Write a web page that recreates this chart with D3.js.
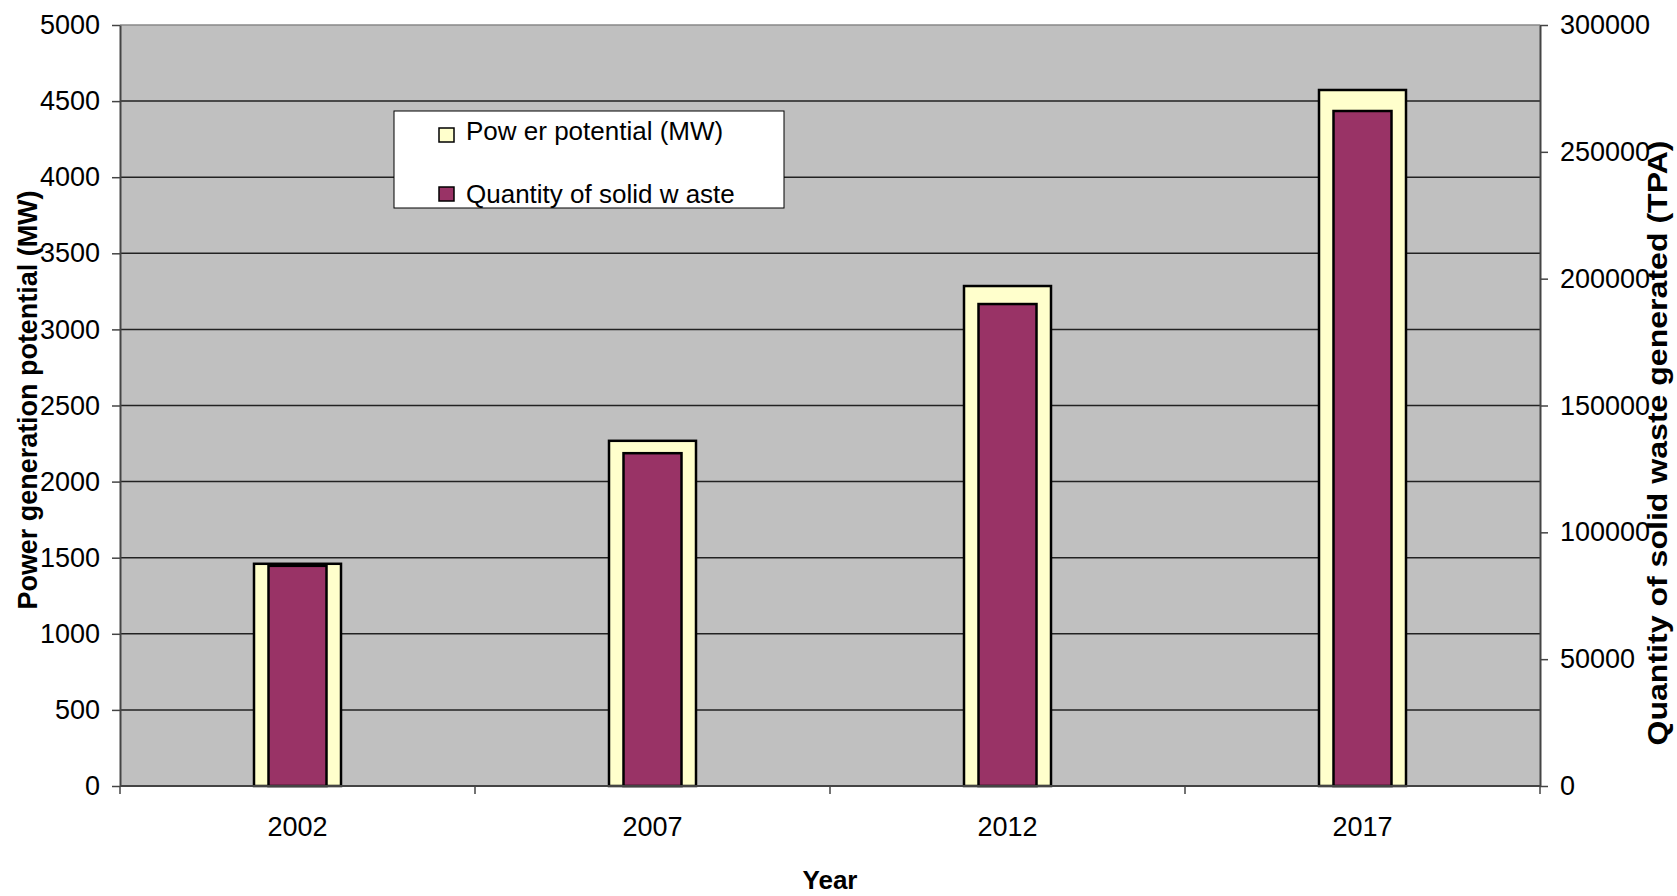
<!DOCTYPE html>
<html>
<head>
<meta charset="utf-8">
<script src="https://cdn.jsdelivr.net/npm/d3@7"></script>
<style>
  body { margin: 0; background: #fff; }
  text { font-family: "Liberation Sans", Arial, sans-serif; fill: #000; }
</style>
</head>
<body>
<svg id="chart" width="1677" height="896"></svg>
<script>
// Data
const years = ["2002", "2007", "2012", "2017"];
const powerMW = [1460, 2268, 3285, 4573];
const wasteTPA = [86800, 131200, 190000, 266100];
const leftTicks = [0, 500, 1000, 1500, 2000, 2500, 3000, 3500, 4000, 4500, 5000];
const rightTicks = [0, 50000, 100000, 150000, 200000, 250000, 300000];
const seriesNames = ["Pow er potential (MW)", "Quantity of solid w aste"];

// Layout
const plot = { left: 120, right: 1540, top: 25, bottom: 786 };
const colors = { bg: "#c0c0c0", power: "#ffffcc", waste: "#993366" };
const powerWidth = 87, wasteWidth = 58;

const svg = d3.select("#chart");

const x = d3.scaleBand().domain(years).range([plot.left, plot.right]);
const yLeft = d3.scaleLinear().domain([0, 5000]).range([plot.bottom, plot.top]);
const yRight = d3.scaleLinear().domain([0, 300000]).range([plot.bottom, plot.top]);

// Plot area background
svg.append("rect")
  .attr("x", plot.left).attr("y", plot.top)
  .attr("width", plot.right - plot.left).attr("height", plot.bottom - plot.top)
  .attr("fill", colors.bg);

// Gridlines
svg.append("g").selectAll("line")
  .data(leftTicks.slice(1, -1))
  .join("line")
  .attr("x1", plot.left).attr("x2", plot.right)
  .attr("y1", d => yLeft(d)).attr("y2", d => yLeft(d))
  .attr("stroke", "#222").attr("stroke-width", 1.5);

// top border
svg.append("line")
  .attr("x1", plot.left).attr("x2", plot.right)
  .attr("y1", plot.top).attr("y2", plot.top)
  .attr("stroke", "#888").attr("stroke-width", 1.5);

// Bars: power (left axis) behind, waste (right axis) in front
svg.append("g").selectAll("rect")
  .data(years.map((y, i) => ({ year: y, v: powerMW[i] })))
  .join("rect")
  .attr("x", d => x(d.year) + x.bandwidth() / 2 - powerWidth / 2)
  .attr("y", d => yLeft(d.v))
  .attr("width", powerWidth)
  .attr("height", d => plot.bottom - yLeft(d.v))
  .attr("fill", colors.power).attr("stroke", "#000").attr("stroke-width", 2.5);

svg.append("g").selectAll("rect")
  .data(years.map((y, i) => ({ year: y, v: wasteTPA[i] })))
  .join("rect")
  .attr("x", d => x(d.year) + x.bandwidth() / 2 - wasteWidth / 2)
  .attr("y", d => yRight(d.v))
  .attr("width", wasteWidth)
  .attr("height", d => plot.bottom - yRight(d.v))
  .attr("fill", colors.waste).attr("stroke", "#000").attr("stroke-width", 2.5);

// Axes
const axisStyle = g => {
  g.select(".domain").attr("stroke", "#444").attr("stroke-width", 2);
  g.selectAll(".tick line").attr("stroke", "#444").attr("stroke-width", 1.5);
  g.selectAll(".tick text").style("font-size", "27px").attr("fill", "#000");
};

svg.append("g")
  .attr("transform", `translate(${plot.left},0)`)
  .call(d3.axisLeft(yLeft).tickValues(leftTicks).tickFormat(d3.format("d"))
    .tickSize(8).tickSizeOuter(0).tickPadding(12))
  .call(axisStyle);

svg.append("g")
  .attr("transform", `translate(${plot.right},0)`)
  .call(d3.axisRight(yRight).tickValues(rightTicks).tickFormat(d3.format("d"))
    .tickSize(8).tickSizeOuter(0).tickPadding(12))
  .call(axisStyle);

// X axis: ticks at category boundaries, labels at centres
const xAxis = svg.append("g").attr("transform", `translate(0,${plot.bottom})`);
xAxis.append("line")
  .attr("x1", plot.left).attr("x2", plot.right)
  .attr("stroke", "#444").attr("stroke-width", 2);
xAxis.selectAll("line.tk")
  .data(years.map(y => x(y)).concat([plot.right]))
  .join("line").attr("class", "tk")
  .attr("x1", d => d).attr("x2", d => d)
  .attr("y1", 0).attr("y2", 8)
  .attr("stroke", "#444").attr("stroke-width", 1.5);
xAxis.selectAll("text")
  .data(years)
  .join("text")
  .attr("x", d => x(d) + x.bandwidth() / 2)
  .attr("y", 50)
  .attr("text-anchor", "middle")
  .style("font-size", "27px")
  .text(d => d);

// Axis titles
svg.append("text")
  .attr("transform", "translate(37,400) rotate(-90)")
  .attr("text-anchor", "middle")
  .attr("textLength", 419).attr("lengthAdjust", "spacingAndGlyphs")
  .style("font-size", "27px").style("font-weight", "bold")
  .text("Power generation potential (MW)");

svg.append("text")
  .attr("transform", "translate(1667,443) rotate(-90)")
  .attr("text-anchor", "middle")
  .attr("textLength", 605).attr("lengthAdjust", "spacingAndGlyphs")
  .style("font-size", "28px").style("font-weight", "bold")
  .text("Quantity of solid waste generated (TPA)");

svg.append("text")
  .attr("x", (plot.left + plot.right) / 2).attr("y", 889)
  .attr("text-anchor", "middle")
  .style("font-size", "26px").style("font-weight", "bold")
  .text("Year");

// Legend (second entry is clipped by the box, as in the original)
const lg = { x: 394, y: 111, w: 390, h: 97 };
svg.append("clipPath").attr("id", "legendClip")
  .append("rect").attr("x", lg.x).attr("y", lg.y).attr("width", lg.w).attr("height", lg.h);
svg.append("rect")
  .attr("x", lg.x).attr("y", lg.y).attr("width", lg.w).attr("height", lg.h)
  .attr("fill", "#fff").attr("stroke", "#000").attr("stroke-width", 1);
const items = svg.append("g").attr("clip-path", "url(#legendClip)")
  .selectAll("g")
  .data(seriesNames.map((n, i) => ({ name: n, color: i === 0 ? colors.power : colors.waste })))
  .join("g")
  .attr("transform", (d, i) => `translate(${lg.x},${lg.y + 16 + i * 59})`);
items.append("rect")
  .attr("x", 45).attr("y", 1).attr("width", 15).attr("height", 14)
  .attr("fill", d => d.color).attr("stroke", "#000").attr("stroke-width", 1.5);
items.append("text")
  .attr("x", 72).attr("y", 13)
  .attr("dy", (d, i) => i === 0 ? 0 : 4)
  .style("font-size", "26px")
  .text(d => d.name);
</script>
</body>
</html>
